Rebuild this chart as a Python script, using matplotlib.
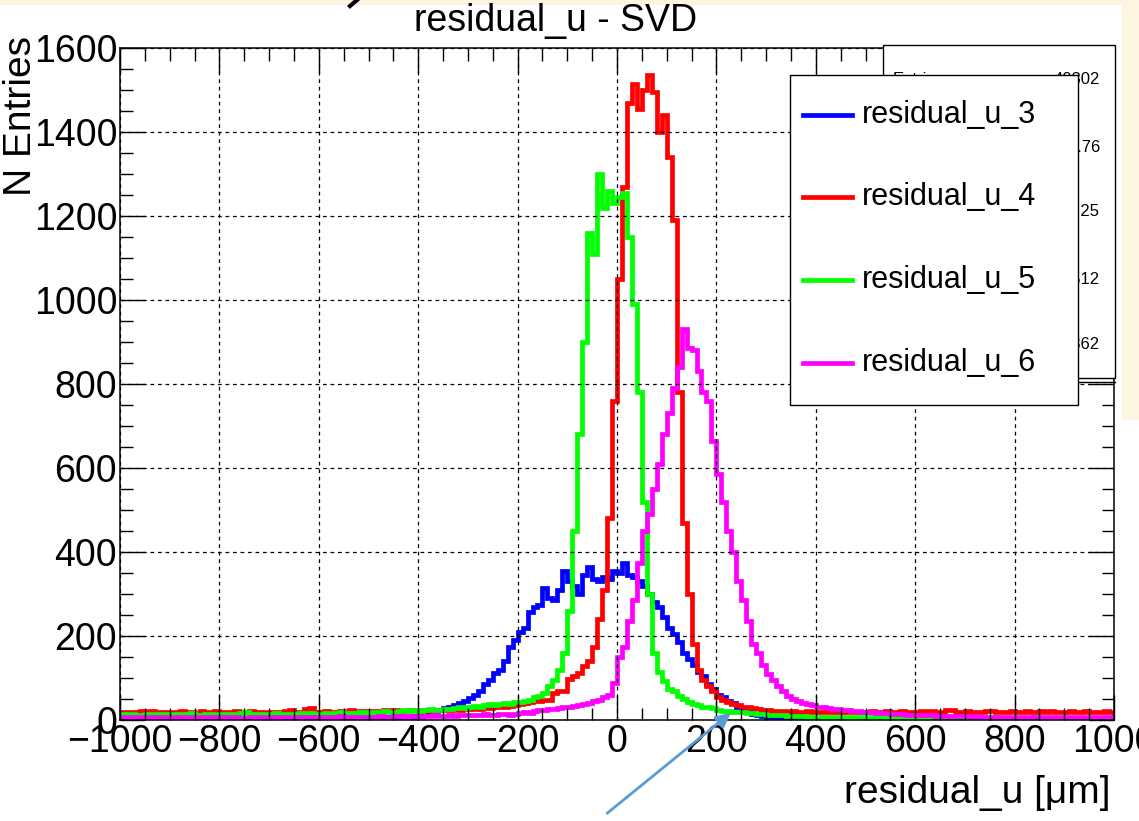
import numpy as np
import matplotlib
matplotlib.use("Agg")
import matplotlib.pyplot as plt
from matplotlib.patches import Rectangle, FancyArrowPatch
from matplotlib.lines import Line2D
from matplotlib.ticker import MultipleLocator

plt.rcParams["font.family"] = ["Liberation Sans", "DejaVu Sans"]

# histogram binning: 200 bins of 10 um from -1000 to 1000
edges = np.linspace(-1000, 1000, 201)

# counts per bin, one row per 100 um
u3 = [
    3, 2, 4, 2, 3, 1, 4, 3, 2, 3,
    2, 4, 3, 1, 3, 2, 3, 4, 2, 3,
    3, 2, 1, 3, 4, 2, 3, 2, 4, 3,
    2, 3, 3, 1, 2, 4, 2, 3, 3, 2,
    3, 4, 2, 3, 2, 3, 5, 3, 4, 4,
    4, 3, 5, 4, 6, 5, 6, 7, 8, 9,
    10, 12, 15, 18, 24, 28, 32, 35, 40, 46,
    52, 60, 70, 85, 95, 112, 120, 140, 175, 190,
    210, 220, 258, 270, 275, 315, 290, 285, 310, 355,
    330, 320, 300, 345, 365, 335, 330, 340, 335, 355,
    350, 375, 345, 340, 330, 320, 300, 280, 270, 245,
    220, 205, 185, 160, 145, 130, 115, 105, 85, 75,
    60, 55, 45, 40, 30, 25, 20, 15, 12, 10,
    8, 7, 6, 5, 5, 4, 4, 3, 4, 3,
    3, 2, 4, 3, 2, 3, 1, 3, 2, 4,
    2, 3, 3, 2, 4, 1, 3, 2, 3, 2,
    3, 2, 1, 3, 2, 4, 2, 3, 1, 2,
    2, 3, 2, 4, 3, 2, 1, 3, 2, 3,
    1, 3, 2, 2, 3, 4, 2, 1, 3, 2,
    3, 2, 2, 1, 3, 2, 4, 2, 3, 2,
]

u4 = [
    18, 20, 17, 19, 22, 18, 21, 17, 19, 20,
    16, 19, 21, 18, 20, 17, 22, 19, 18, 21,
    19, 17, 20, 22, 18, 19, 21, 18, 20, 17,
    20, 19, 18, 21, 23, 19, 20, 26, 28, 20,
    19, 22, 18, 20, 21, 19, 23, 20, 22, 21,
    20, 22, 19, 23, 21, 24, 20, 22, 25, 23,
    22, 24, 21, 25, 23, 26, 24, 27, 25, 28,
    26, 29, 27, 30, 28, 31, 33, 30, 34, 36,
    38, 40, 44, 45, 46, 47, 48, 65, 68, 70,
    98, 105, 112, 128, 140, 175, 240, 310, 480, 760,
    1050, 1270, 1470, 1515, 1455, 1500, 1535, 1495, 1400, 1440,
    1340, 1190, 780, 470, 300, 180, 120, 95, 80, 70,
    55, 48, 42, 38, 35, 32, 30, 28, 26, 24,
    23, 22, 22, 21, 20, 21, 19, 20, 21, 19,
    20, 19, 21, 18, 20, 19, 21, 20, 18, 20,
    19, 21, 20, 18, 22, 19, 20, 21, 19, 18,
    20, 22, 19, 21, 18, 20, 23, 24, 20, 19,
    21, 19, 20, 18, 21, 22, 19, 20, 18, 21,
    20, 18, 21, 19, 20, 22, 19, 21, 20, 19,
    18, 21, 19, 20, 22, 18, 20, 19, 21, 20,
]

u5 = [
    14, 12, 15, 13, 11, 14, 12, 15, 13, 14,
    12, 15, 13, 14, 16, 13, 12, 15, 14, 13,
    15, 13, 14, 12, 16, 18, 15, 14, 13, 15,
    14, 16, 13, 15, 12, 14, 17, 15, 16, 14,
    15, 17, 14, 16, 18, 15, 17, 16, 18, 17,
    18, 17, 19, 21, 18, 20, 22, 24, 21, 23,
    22, 24, 26, 23, 25, 27, 26, 28, 30, 29,
    32, 34, 31, 35, 37, 36, 38, 40, 39, 42,
    44, 45, 48, 55, 58, 65, 80, 95, 120, 160,
    260, 450, 680, 900, 1160, 1110, 1300, 1220, 1260, 1230,
    1245, 1255, 1150, 990, 780, 520, 300, 160, 115, 92,
    75, 68, 58, 50, 42, 38, 35, 32, 30, 28,
    25, 22, 21, 20, 19, 18, 17, 16, 15, 14,
    13, 12, 12, 11, 10, 10, 9, 9, 8, 8,
    7, 8, 6, 7, 8, 6, 7, 5, 7, 6,
    6, 5, 7, 6, 5, 6, 4, 6, 5, 6,
    5, 6, 4, 5, 6, 5, 4, 6, 5, 4,
    5, 4, 6, 5, 4, 5, 6, 4, 5, 5,
    4, 5, 5, 4, 6, 4, 5, 4, 5, 4,
    5, 4, 4, 5, 3, 5, 4, 5, 4, 4,
]

u6 = [
    6, 5, 7, 4, 6, 5, 8, 6, 5, 7,
    5, 6, 4, 7, 5, 6, 5, 8, 6, 4,
    6, 5, 7, 6, 4, 5, 7, 6, 5, 6,
    5, 7, 6, 8, 5, 6, 7, 5, 6, 7,
    6, 8, 7, 6, 9, 7, 8, 6, 7, 8,
    7, 8, 9, 7, 8, 10, 9, 8, 10, 9,
    8, 10, 9, 11, 10, 9, 12, 10, 11, 12,
    11, 13, 12, 14, 12, 13, 15, 14, 13, 15,
    16, 18, 17, 22, 24, 25, 26, 27, 28, 30,
    32, 34, 36, 38, 40, 45, 48, 55, 60, 88,
    150, 175, 235, 285, 375, 450, 490, 550, 610, 680,
    730, 790, 840, 930, 885, 880, 830, 780, 760, 665,
    585, 520, 450, 400, 330, 285, 235, 180, 160, 130,
    110, 95, 80, 68, 58, 50, 45, 40, 38, 35,
    32, 30, 28, 27, 26, 25, 24, 22, 21, 20,
    19, 18, 17, 17, 16, 15, 15, 14, 13, 13,
    12, 12, 11, 11, 10, 10, 10, 9, 9, 9,
    9, 8, 9, 8, 7, 8, 8, 7, 8, 7,
    7, 8, 7, 6, 8, 7, 7, 6, 7, 8,
    7, 6, 7, 7, 6, 8, 6, 7, 6, 7,
]

series = [("residual_u_3", u3, "#0000ff"),
          ("residual_u_4", u4, "#ff0000"),
          ("residual_u_5", u5, "#00ff00"),
          ("residual_u_6", u6, "#ff00ff")]

# stats box values (only the last digits peek out from behind the legend)
stat_vals = ["40302", "\u221257.76", "182.25", "1512", "4362"]

W, H = 1139, 821


def fx(px):
    return px / W


def fy(py):
    return 1 - py / H


fig = plt.figure(figsize=(W / 100, H / 100), dpi=100)
fig.patch.set_facecolor("white")

ax = fig.add_axes([fx(120), fy(720), 994 / W, 672 / H])
for name, vals, col in series:
    ax.stairs(vals, edges, color=col, linewidth=3.4)

ax.set_xlim(-1000, 1000)
ax.set_ylim(0, 1600)
ax.xaxis.set_major_locator(MultipleLocator(200))
ax.xaxis.set_minor_locator(MultipleLocator(50))
ax.yaxis.set_major_locator(MultipleLocator(200))
ax.yaxis.set_minor_locator(MultipleLocator(50))
ax.grid(True, which="major", color="black", linestyle=(0, (3, 3)), linewidth=0.9)
ax.tick_params(which="both", direction="in", top=True, right=True, labelsize=27, width=1)
ax.tick_params(which="major", length=18)
ax.tick_params(which="minor", length=9)
ax.tick_params(axis="x", pad=3)
ax.tick_params(axis="y", pad=2)
for s in ax.spines.values():
    s.set_linewidth(1.1)

# titles and labels
fig.text(fx(556), fy(21), "residual_u - SVD", ha="center", va="center", fontsize=27)
fig.text(fx(1110), fy(793), "residual_u [\u03bcm]", ha="right", va="center", fontsize=28)
fig.text(fx(21), fy(36), "N Entries", ha="center", va="top", rotation=90, fontsize=28)

# stats box (mostly hidden behind the legend)
fig.patches.append(Rectangle((fx(883), fy(378)), 232 / W, 333 / H, transform=fig.transFigure,
                             facecolor="white", edgecolor="black", linewidth=1, zorder=3))
fig.add_artist(Line2D([fx(1078), fx(1115)], [fy(382), fy(382)], color="black", lw=1, zorder=3))
fig.text(fx(893), fy(79), "Entries", ha="left", va="center", fontsize=12, zorder=4)
for v, yy in zip(stat_vals, [79, 147, 212, 279, 344]):
    fig.text(fx(1100), fy(yy), v, ha="right", va="center", fontsize=12, zorder=4)

# legend box
fig.patches.append(Rectangle((fx(790), fy(405)), 288 / W, 330 / H, transform=fig.transFigure,
                             facecolor="white", edgecolor="black", linewidth=1, zorder=5))
leg_y = [115, 197, 280, 363]
for (name, vals, col), yy in zip(series, leg_y):
    fig.add_artist(Line2D([fx(803), fx(852)], [fy(yy), fy(yy)], color=col, lw=3.4, zorder=6))
    fig.text(fx(862), fy(yy), name, ha="left", va="center", fontsize=22, zorder=6)

# slide decorations
fig.patches.append(Rectangle((0, fy(5)), 1, 5 / H, transform=fig.transFigure,
                             facecolor="#fdf5e1", edgecolor="none", zorder=2))
fig.patches.append(Rectangle((fx(1122), fy(420)), 17 / W, 420 / H, transform=fig.transFigure,
                             facecolor="#fdf5e1", edgecolor="none", zorder=2))
fig.add_artist(Line2D([fx(357), fx(350)], [fy(0), fy(6)], color="black", lw=3, zorder=3))
fig.add_artist(FancyArrowPatch((fx(605), fy(815)), (fx(733), fy(711)), transform=fig.transFigure,
                               arrowstyle="-|>", mutation_scale=22, color="#5b9bd5", lw=2, zorder=7))

fig.savefig("out.png", dpi=100)
